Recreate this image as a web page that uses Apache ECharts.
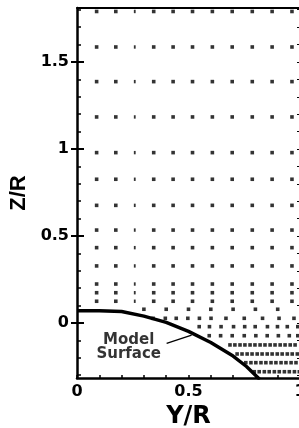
<!DOCTYPE html>
<html><head><meta charset="utf-8">
<script src="https://cdn.jsdelivr.net/npm/echarts@6/dist/echarts.min.js"></script>
<style>html,body{margin:0;padding:0;background:#fff}#c{width:299px;height:428px}</style>
</head><body><div id="c"></div>
<script>
// Axis ranges and ticks
const xRange = [0, 1.0];
const yRange = [-0.316, 1.81];
const xTickValues = [0,0.1,0.2,0.3,0.4,0.5,0.6,0.7,0.8,0.9,1.0];
const xLabelValues = [0, 0.5, 1];
const yMinorTicks = [-0.3,-0.2,-0.1,0,0.1,0.2,0.3,0.4,0.5,0.6,0.7,0.8,0.9,1.0,1.1,1.2,1.3,1.4,1.5,1.6,1.7,1.8];
const yMajorTicks = [0, 0.5, 1, 1.5];

// Regular grid of points (Y/R columns, Z/R rows)
const gridCols = [0.088, 0.174, 0.344, 0.431, 0.518, 0.607, 0.696, 0.786, 0.875, 0.964];
const thinCol = [0.259];
const gridRows = [1.79, 1.586, 1.387, 1.184, 0.979, 0.826, 0.676, 0.534, 0.433, 0.328, 0.224, 0.174, 0.125];

// Refined rows near the surface
const rowAz = 0.079;  const rowA = [0.3, 0.4, 0.5, 0.6, 0.7, 0.8, 0.9];
const rowBz = 0.027;  const rowB = [0.341, 0.396, 0.445, 0.497, 0.549, 0.601, 0.668, 0.750, 0.832, 0.906, 0.973];
const rowCz = -0.021; const rowC = [0.548, 0.594, 0.646, 0.702, 0.752, 0.799, 0.854, 0.899, 0.943, 0.99];
const rowDz = -0.073; const rowD = [0.593, 0.644, 0.696, 0.750, 0.802, 0.853, 0.903, 0.952, 0.99];
const rowEz = -0.126; const rowE = [0.686, 0.708, 0.731, 0.753, 0.776, 0.798, 0.821, 0.843, 0.866, 0.888, 0.911, 0.933, 0.956, 0.978];
const rowFz = -0.178; const rowF = [0.718, 0.740, 0.763, 0.785, 0.808, 0.830, 0.853, 0.875, 0.898, 0.920, 0.943, 0.965, 0.988];
const rowGz = -0.228; const rowG = [0.757, 0.780, 0.802, 0.825, 0.847, 0.870, 0.892, 0.915, 0.937, 0.960, 0.982];
const rowHz = -0.280; const rowH = [0.795, 0.817, 0.840, 0.862, 0.885, 0.907, 0.930, 0.952, 0.975, 0.997];

// Model surface profile
const surfY = [0, 0.1, 0.2, 0.3, 0.4, 0.5, 0.6, 0.7, 0.76, 0.82];
const surfZ = [0.07, 0.07, 0.066, 0.04, 0.004, -0.048, -0.112, -0.19, -0.25, -0.325];

// Annotation
const annotText = 'Model\nSurface';
const annotPos = [0.232, -0.136];
const pointerY = [0.402, 0.514];
const pointerZ = [-0.117, -0.069];

const pts = [];
gridRows.forEach(z => gridCols.forEach(y => pts.push([y, z])));
[[rowAz,rowA],[rowBz,rowB],[rowCz,rowC],[rowDz,rowD],[rowEz,rowE],[rowFz,rowF],[rowGz,rowG],[rowHz,rowH]]
  .forEach(([z, ys]) => ys.forEach(y => pts.push([y, z])));
const thinPts = [];
gridRows.forEach(z => thinCol.forEach(y => thinPts.push([y, z])));

const axisFont = {fontFamily: 'DejaVu Sans', fontWeight: 'bold', fontSize: 16, color: '#000'};
const lineStyle = {color: '#000', width: 2.5};

const chart = echarts.init(document.getElementById('c'), null, {renderer: 'canvas'});
chart.setOption({
  animation: false,
  backgroundColor: '#fff',
  grid: {left: 77, right: -1, top: 8, bottom: 50, containLabel: false, outerBoundsMode: 'none'},
  xAxis: [
    {type: 'value', position: 'bottom', min: xRange[0], max: xRange[1],
     name: 'Y/R', nameLocation: 'middle', nameGap: 25,
     nameTextStyle: {fontFamily: 'DejaVu Sans', fontWeight: 'bold', fontSize: 24, color: '#000'},
     axisLine: {show: true, onZero: false, lineStyle: lineStyle},
     axisTick: {show: true, inside: true, length: 3, customValues: xTickValues, lineStyle: {color: '#000', width: 1.5}},
     axisLabel: Object.assign({customValues: xLabelValues, margin: 6, formatter: v => String(v)}, axisFont),
     splitLine: {show: false}},
    {type: 'value', position: 'top', min: xRange[0], max: xRange[1],
     axisLine: {show: true, onZero: false, lineStyle: {color: '#000', width: 2}},
     axisTick: {show: false}, axisLabel: {show: false}, splitLine: {show: false}}
  ],
  yAxis: [
    {type: 'value', position: 'left', min: yRange[0], max: yRange[1],
     name: 'Z/R', nameLocation: 'middle', nameGap: 40,
     nameTextStyle: {fontFamily: 'Liberation Sans', fontWeight: 'bold', fontSize: 22, color: '#000'},
     axisLine: {show: true, onZero: false, lineStyle: lineStyle},
     axisTick: {show: true, inside: true, length: 7, customValues: yMajorTicks, lineStyle: {color: '#000', width: 2}},
     axisLabel: Object.assign({customValues: yMajorTicks, margin: 8, formatter: v => String(v)}, axisFont),
     splitLine: {show: false}},
    {type: 'value', position: 'left', min: yRange[0], max: yRange[1],
     axisLine: {show: false},
     axisTick: {show: true, inside: true, length: 4, customValues: yMinorTicks, lineStyle: {color: '#000', width: 1.5}},
     axisLabel: {show: false}, splitLine: {show: false}},
    {type: 'value', position: 'right', min: yRange[0], max: yRange[1],
     axisLine: {show: false},
     axisTick: {show: true, inside: true, length: 6, customValues: yMajorTicks, lineStyle: {color: '#000', width: 2}},
     axisLabel: {show: false}, splitLine: {show: false}},
    {type: 'value', position: 'right', min: yRange[0], max: yRange[1],
     axisLine: {show: false},
     axisTick: {show: true, inside: true, length: 3, customValues: yMinorTicks, lineStyle: {color: '#000', width: 1.2}},
     axisLabel: {show: false}, splitLine: {show: false}}
  ],
  series: [
    {type: 'scatter', data: pts, symbol: 'rect', symbolSize: 3.6,
     itemStyle: {color: '#000'}, silent: true, clip: true},
    {type: 'scatter', data: thinPts, symbol: 'rect', symbolSize: [1.8, 3.4],
     itemStyle: {color: '#000'}, silent: true, clip: true},
    {type: 'line', data: surfY.map((y, i) => [y, surfZ[i]]), showSymbol: false, symbol: 'none',
     lineStyle: {color: '#000', width: 3.4}, clip: true, z: 5},
    {type: 'line', data: pointerY.map((y, i) => [y, pointerZ[i]]), showSymbol: false, symbol: 'none',
     lineStyle: {color: '#000', width: 1.3}, z: 5},
    {type: 'scatter', data: [annotPos], symbolSize: 0, z: 6,
     label: {show: true, position: 'inside', formatter: annotText, align: 'center', verticalAlign: 'middle',
       fontFamily: 'DejaVu Sans', fontWeight: 'bold', fontSize: 15, lineHeight: 14, color: '#000'}}
  ]
});
</script>
</body></html>
